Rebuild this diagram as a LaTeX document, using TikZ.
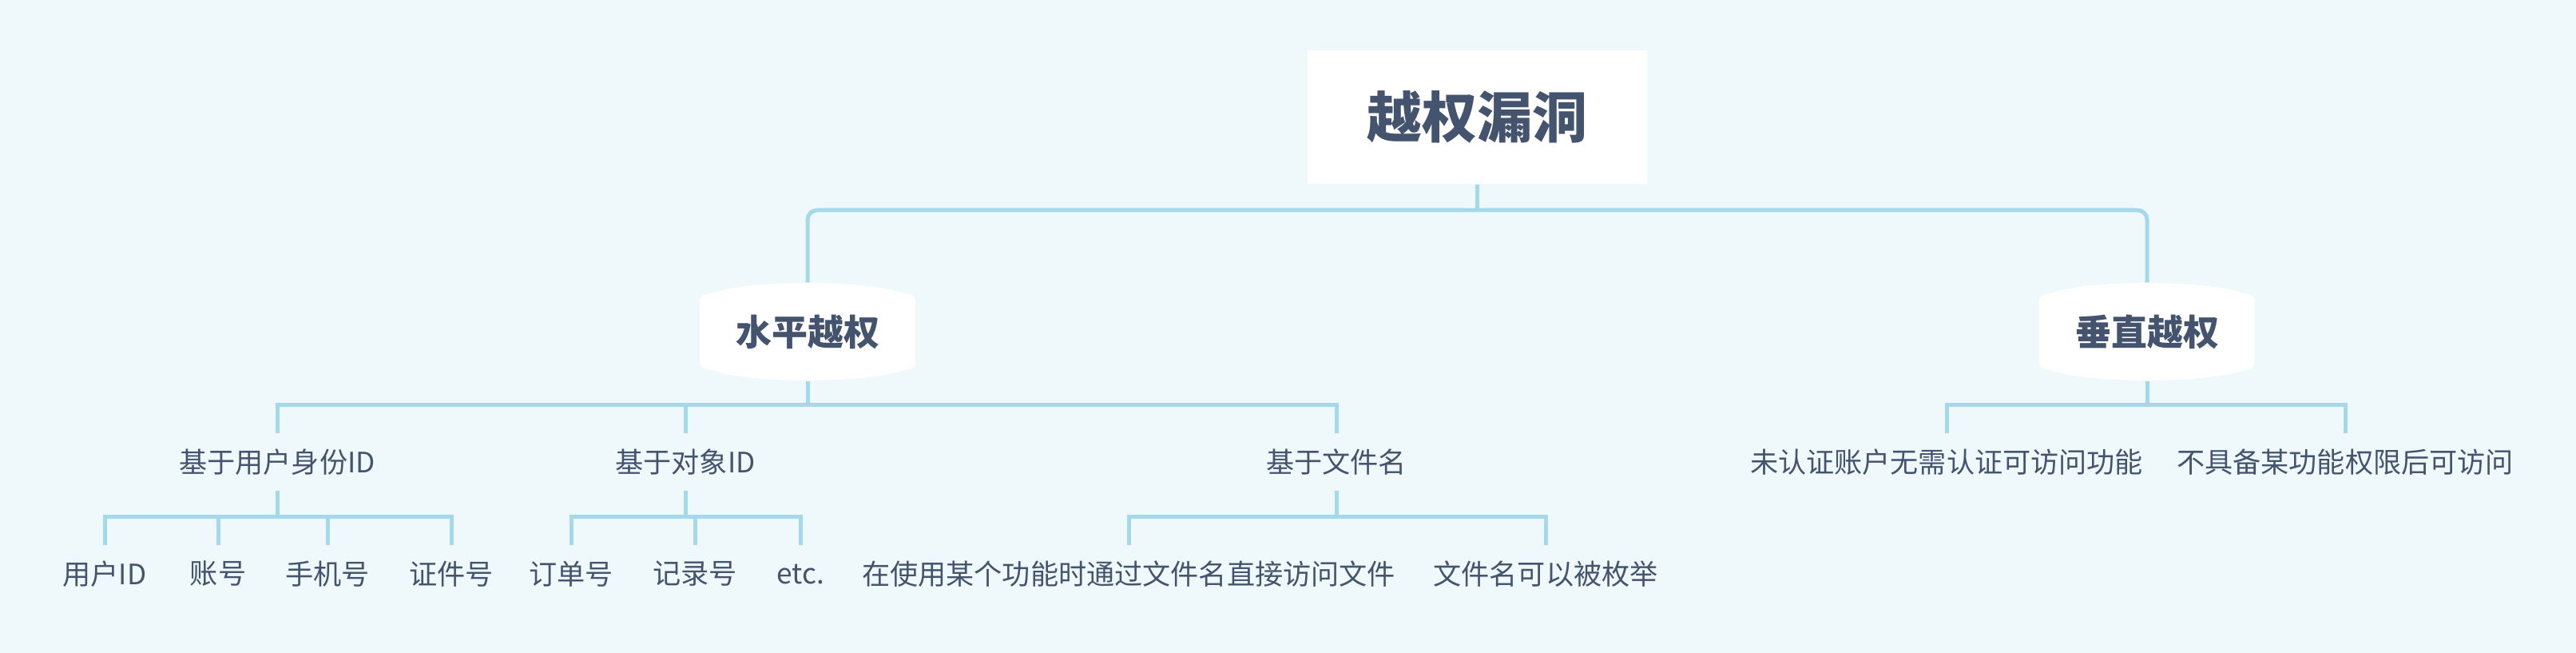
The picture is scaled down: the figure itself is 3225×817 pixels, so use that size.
\documentclass[tikz,border=0pt]{standalone}
\usepackage{fontspec}
\setmainfont{Noto Sans CJK SC}

\definecolor{bgblue}{HTML}{EFF8FB}
\definecolor{linkblue}{HTML}{A4D9EC}
\definecolor{inkblue}{HTML}{44546F}

\tikzset{
  conn/.style={draw=linkblue, line width=0.5mm},
  rootbox/.style={fill=white, text=inkblue, font=\fontsize{19.6}{22}\selectfont\bfseries,
    minimum width=42.5mm, minimum height=16.7mm, inner sep=0pt},
  subbox/.style={text=inkblue, font=\fontsize{12.8}{15}\selectfont\bfseries,
    minimum width=27mm, minimum height=12.2mm, inner sep=0pt},
  leaf/.style={text=inkblue, font=\fontsize{10}{12}\selectfont,
    minimum height=7mm, inner sep=0pt},
}

% 二级节点的白色底板
\newcommand{\capsulefill}[2]{%
  \fill[white, shift={(#1,#2)}] (-135,-34) .. controls (-135,-45) .. (-118,-49)
    .. controls (-70,-65) and (70,-65) .. (118,-49)
    .. controls (135,-45) .. (135,-34) -- (135,34)
    .. controls (135,45) .. (118,49)
    .. controls (70,65) and (-70,65) .. (-118,49)
    .. controls (-135,45) .. (-135,34) -- cycle;}

\begin{document}
\begin{tikzpicture}[x=0.1mm, y=-0.1mm]
    % 背景
    \fill[bgblue] (0,0) rectangle (3225,817);

    % 根节点
    \node[rootbox] (root) at (1849.5,146.5) {越权漏洞};

    % 水平越权 / 垂直越权
    \capsulefill{1011}{415}
    \node[subbox] (horiz) at (1011,415) {水平越权};
    \capsulefill{2688}{415}
    \node[subbox] (vert) at (2688,415) {垂直越权};

    % 第三层
    \node[leaf] (byuser) at (347,578) {基于用户身份ID};
    \node[leaf] (byobj) at (858,578) {基于对象ID};
    \node[leaf] (byfile) at (1673,578) {基于文件名};
    \node[leaf] (noauth) at (2437,578) {未认证账户无需认证可访问功能};
    \node[leaf] (noperm) at (2936,578) {不具备某功能权限后可访问};

    % 叶子
    \node[leaf] (uid) at (131,718) {用户ID};
    \node[leaf] (acct) at (273,718) {账号};
    \node[leaf] (phone) at (410,718) {手机号};
    \node[leaf] (idcard) at (565,718) {证件号};
    \node[leaf] (order) at (715,718) {订单号};
    \node[leaf] (record) at (870,718) {记录号};
    \node[leaf] (etc) at (1002,718) {etc.};
    \node[leaf] (direct) at (1413,718) {在使用某个功能时通过文件名直接访问文件};
    \node[leaf] (enum) at (1935,718) {文件名可以被枚举};

    % 分支点
    \coordinate (rootbus) at (1849.5,263);
    \coordinate (horizbus) at (1011,507);
    \coordinate (vertbus) at (2688,507);
    \coordinate (userbus) at (347,647);
    \coordinate (objbus) at (858,647);
    \coordinate (filebus) at (1673,647);

    % 连线
    \draw[conn] (root.south) -- (rootbus);
    \draw[conn, rounded corners=1.2mm] (rootbus) -| (horiz.north);
    \draw[conn, rounded corners=1.2mm] (rootbus) -| (vert.north);

    \draw[conn] (horiz.south) -- (horizbus);
    \foreach \c in {byuser,byobj,byfile} \draw[conn] (horizbus) -| (\c.north);
    \draw[conn] (vert.south) -- (vertbus);
    \foreach \c in {noauth,noperm} \draw[conn] (vertbus) -| (\c.north);

    \draw[conn] (byuser.south) -- (userbus);
    \foreach \c in {uid,acct,phone,idcard} \draw[conn] (userbus) -| (\c.north);
    \draw[conn] (byobj.south) -- (objbus);
    \foreach \c in {order,record,etc} \draw[conn] (objbus) -| (\c.north);
    \draw[conn] (byfile.south) -- (filebus);
    \foreach \c in {direct,enum} \draw[conn] (filebus) -| (\c.north);
\end{tikzpicture}
\end{document}
